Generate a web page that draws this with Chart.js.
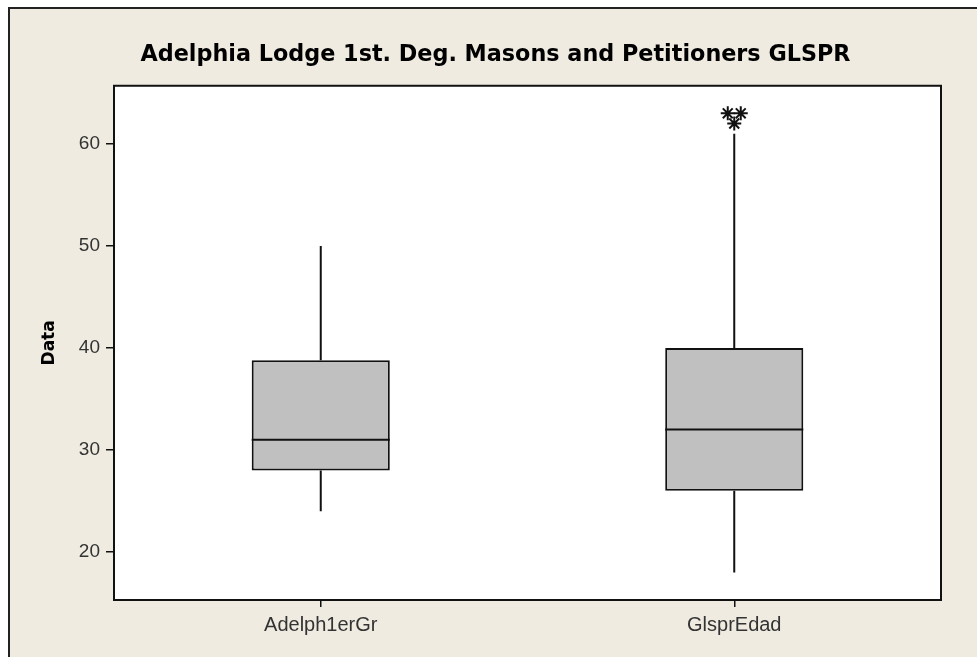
<!DOCTYPE html>
<html>
<head>
<meta charset="utf-8">
<script src="https://cdn.jsdelivr.net/npm/chart.js@4.4.0/dist/chart.umd.min.js"></script>
<style>
html, body { margin: 0; padding: 0; background: #fff; }
#wrap { position: relative; width: 977px; height: 657px; overflow: hidden; }
#frame { position: absolute; left: 8px; top: 7px; width: 1000px; height: 700px; background: #EFEBE1; border-left: 2px solid #222; border-top: 2px solid #222; }
#grafico { position: absolute; left: 0; top: 0; }
</style>
</head>
<body>
<div id="wrap">
  <div id="frame"></div>
  <canvas id="grafico" width="977" height="657"></canvas>
</div>
<script>
// Dados do boxplot
const categorias = ['Adelph1erGr', 'GlsprEdad'];
const minimos = [24, 18];
const quartil1 = [28, 26];
const medianas = [31, 32];
const quartil3 = [38.8, 40];
const maximos = [50, 61];
const outliers = [[], [63, 63, 62]];
const ticksY = [20, 30, 40, 50, 60];

// Bigodes, mediana e outliers desenhados pelas escalas do Chart.js
const boxplotPlugin = {
    id: 'boxplot',
    beforeDraw(chart) {
        const { ctx, chartArea } = chart;
        ctx.save();
        ctx.fillStyle = '#fff';
        ctx.fillRect(chartArea.left, chartArea.top, chartArea.right - chartArea.left, chartArea.bottom - chartArea.top);
        ctx.restore();
    },
    afterDatasetsDraw(chart) {
        const { ctx } = chart;
        const y = chart.scales.y;
        const meta = chart.getDatasetMeta(0);
        ctx.save();
        ctx.strokeStyle = '#111';
        ctx.lineWidth = 2;
        categorias.forEach((c, i) => {
            const bar = meta.data[i];
            const x = bar.x;
            const half = bar.width / 2;
            ctx.beginPath();
            ctx.moveTo(x, y.getPixelForValue(quartil3[i]));
            ctx.lineTo(x, y.getPixelForValue(maximos[i]));
            ctx.moveTo(x, y.getPixelForValue(quartil1[i]));
            ctx.lineTo(x, y.getPixelForValue(minimos[i]));
            ctx.moveTo(x - half, y.getPixelForValue(medianas[i]));
            ctx.lineTo(x + half, y.getPixelForValue(medianas[i]));
            ctx.stroke();

            // outliers empatados lado a lado
            const contagem = {};
            outliers[i].forEach(v => { contagem[v] = (contagem[v] || 0) + 1; });
            const usados = {};
            outliers[i].forEach(v => {
                const n = contagem[v];
                const k = usados[v] || 0;
                usados[v] = k + 1;
                const dx = (k - (n - 1) / 2) * 13;
                Chart.helpers.drawPoint(ctx, {
                    pointStyle: 'star', radius: 7, borderWidth: 1.2
                }, x + dx, y.getPixelForValue(v));
            });
        });
        ctx.restore();
    },
    afterDraw(chart) {
        const { ctx, chartArea } = chart;
        ctx.save();
        ctx.strokeStyle = '#111';
        ctx.lineWidth = 2;
        ctx.strokeRect(chartArea.left, chartArea.top, chartArea.right - chartArea.left, chartArea.bottom - chartArea.top);
        ctx.restore();
    }
};

const ctxBox = document.getElementById('grafico').getContext('2d');
const boxChart = new Chart(ctxBox, {
    type: 'bar',
    data: {
        labels: categorias,
        datasets: [{
            label: 'Data',
            data: quartil1.map((q, i) => [q, quartil3[i]]),
            backgroundColor: '#C0C0C0',
            borderColor: '#111',
            borderWidth: 2,
            borderSkipped: false,
            barPercentage: 0.334,
            categoryPercentage: 1
        }]
    },
    options: {
        responsive: false,
        devicePixelRatio: 1,
        animation: false,
        layout: {
            padding: { left: 14, right: 0, top: 0, bottom: 0 }
        },
        plugins: {
            legend: { display: false },
            tooltip: { enabled: false },
            title: {
                display: true,
                text: 'Adelphia Lodge 1st. Deg. Masons and Petitioners GLSPR',
                color: '#000',
                font: { family: 'DejaVu Sans', size: 22.3, weight: 'bold' },
                padding: { top: 42, bottom: 17 }
            }
        },
        scales: {
            x: {
                offset: true,
                afterFit(scale) { scale.height = 57; },
                grid: {
                    display: true,
                    offset: false,
                    drawOnChartArea: false,
                    drawTicks: true,
                    tickLength: 7,
                    color: '#111',
                    lineWidth: 1.5
                },
                border: { display: false },
                ticks: {
                    color: '#333',
                    padding: 6,
                    font: { family: 'Liberation Sans', size: 20 }
                }
            },
            y: {
                min: 15.3,
                max: 65.7,
                afterFit(scale) { scale.width = 100; },
                afterBuildTicks(scale) { scale.ticks = ticksY.map(v => ({ value: v })); },
                grid: {
                    display: true,
                    drawOnChartArea: false,
                    drawTicks: true,
                    tickLength: 8,
                    color: '#111',
                    lineWidth: 1.5
                },
                border: { display: false },
                title: {
                    display: true,
                    text: 'Data',
                    color: '#000',
                    font: { family: 'DejaVu Sans', size: 17, weight: 'bold' },
                    padding: { top: 25, bottom: 0 }
                },
                ticks: {
                    color: '#333',
                    padding: 6,
                    font: { family: 'Liberation Sans', size: 19 }
                }
            },
            margemDireita: {
                type: 'linear',
                position: 'right',
                afterFit(scale) { scale.width = 36; },
                grid: { display: false },
                border: { display: false },
                ticks: { display: false }
            }
        }
    },
    plugins: [boxplotPlugin]
});
</script>
</body>
</html>
